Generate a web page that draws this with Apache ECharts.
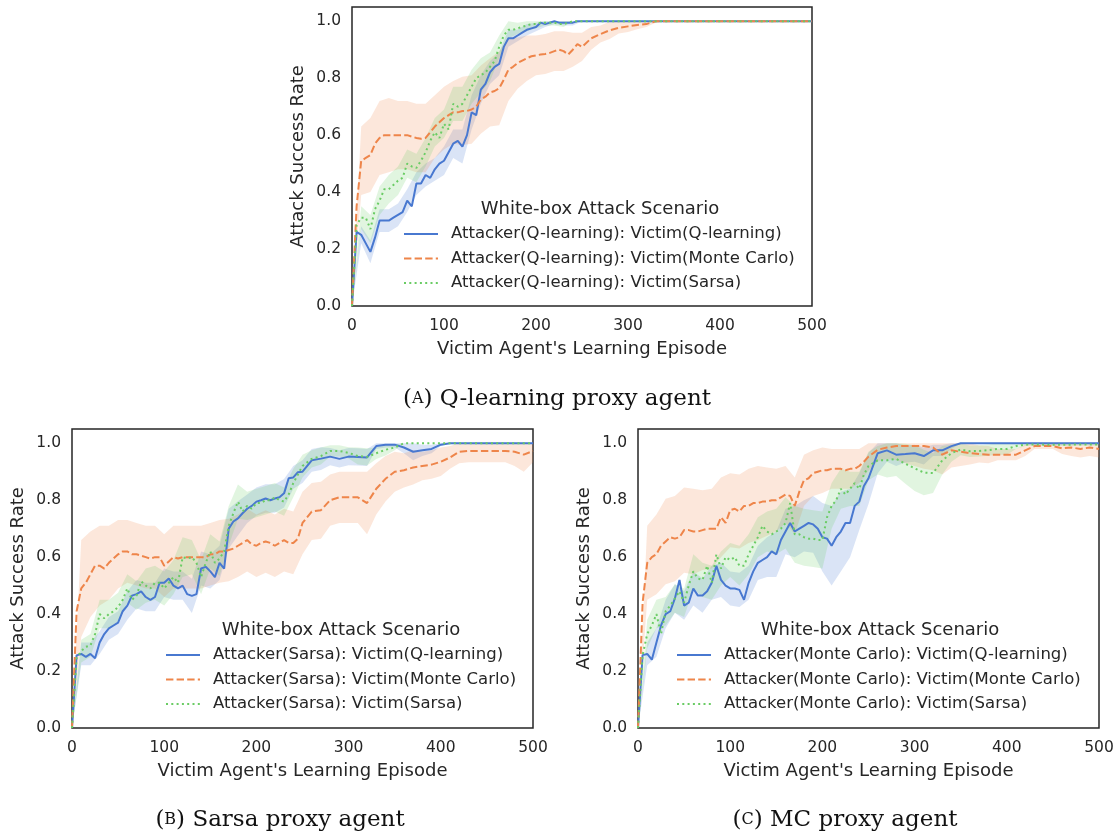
<!DOCTYPE html>
<html><head><meta charset="utf-8">
<script src="https://cdn.jsdelivr.net/npm/echarts@6/dist/echarts.min.js"></script>
<style>html,body{margin:0;padding:0;background:#fff}#c{width:1117px;height:835px}</style>
</head><body><div id="c"></div>
<script>
// ---------------- DATA ----------------
const episodes = [0,5,10,15,20,25,30,35,40,45,50,55,60,65,70,75,80,85,90,95,100,105,110,115,120,125,130,135,140,145,150,155,160,165,170,175,180,185,190,195,200,205,210,215,220,225,230,235,240,245,250,
  260,270,280,290,300,310,320,330,340,350,360,370,380,390,400,410,420,430,440,450,460,470,480,490,500];
const bandEpisodes = [0,10,20,30,40,50,60,70,80,90,100,110,120,130,140,150,160,170,180,190,200,210,220,230,240,250,260,270,280,290,300,310,320,330,340,350,360,370,380,390,400,410,420,430,440,450,460,470,480,490,500];
const xTicks = [0,100,200,300,400,500];
const yTicks = [0.0,0.2,0.4,0.6,0.8,1.0];

// (A) Q-learning proxy agent
const aQ = [0,0.26,0.25,0.22,0.19,0.24,0.30,0.30,0.30,0.31,
  0.32,0.33,0.37,0.35,0.43,0.43,0.46,0.45,0.48,0.50,
  0.51,0.54,0.57,0.58,0.56,0.60,0.68,0.67,0.76,0.78,
  0.82,0.84,0.85,0.91,0.94,0.94,0.95,0.96,0.97,0.975,
  0.98,0.995,0.99,0.995,1.0,0.995,0.995,0.995,0.995,1.0,
  1.0,
  1,1,1,1,1,1,1,1,1,1,1,1,1,1,1,1,1,1,1,1,1,1,1,1,1];
const aM = [0,0.35,0.51,0.52,0.53,0.57,0.59,0.60,0.60,0.60,
  0.60,0.60,0.60,0.595,0.59,0.587,0.59,0.61,0.63,0.645,
  0.66,0.67,0.68,0.68,0.685,0.685,0.69,0.70,0.725,0.735,
  0.75,0.755,0.765,0.795,0.83,0.84,0.853,0.862,0.87,0.877,
  0.88,0.883,0.885,0.889,0.895,0.90,0.895,0.883,0.90,0.92,
  0.91,
  0.94,0.955,0.968,0.977,0.982,0.987,0.99,1,1,1,1,1,1,1,1,1,1,1,1,1,1,1,1,1,1];
const aS = [0,0.285,0.31,0.31,0.27,0.34,0.37,0.41,0.41,0.425,
  0.44,0.45,0.50,0.49,0.485,0.51,0.54,0.58,0.61,0.59,
  0.64,0.62,0.71,0.70,0.71,0.74,0.77,0.80,0.81,0.82,
  0.84,0.86,0.91,0.95,0.97,0.97,0.975,0.98,0.985,0.99,
  0.99,0.995,0.995,0.995,0.995,0.99,0.99,0.995,1,1,
  1,
  1,1,1,1,1,1,1,1,1,1,1,1,1,1,1,1,1,1,1,1,1,1,1,1,1];
const aQspread = [0,0.03,0.04,0.04,0.04,0.04,0.04,0.04,0.04,0.04,
  0.05,0.05,0.06,0.06,0.05,0.04,0.04,0.03,0.02,0.02,
  0.015,0.01,0.01,0.01,0.01,0,0,0,0,0,
  0,0,0,0,0,0,0,0,0,0,
  0,0,0,0,0,0,0,0,0,0,
  0];
const aMspread = [0,0.12,0.13,0.13,0.13,0.12,0.12,0.12,0.12,0.11,
  0.11,0.11,0.12,0.12,0.12,0.12,0.13,0.11,0.09,0.08,
  0.07,0.07,0.07,0.07,0.06,0.05,0.04,0.03,0.03,0.02,
  0.02,0.015,0.01,0.005,0,0,0,0,0,0,
  0,0,0,0,0,0,0,0,0,0,
  0];
const aSspread = [0,0.04,0.05,0.05,0.05,0.05,0.05,0.05,0.05,0.05,
  0.05,0.06,0.06,0.06,0.06,0.05,0.04,0.03,0.02,0.02,
  0.015,0.01,0.01,0.01,0,0,0,0,0,0,
  0,0,0,0,0,0,0,0,0,0,
  0,0,0,0,0,0,0,0,0,0,
  0];

// (B) Sarsa proxy agent
const bQ = [0,0.255,0.26,0.25,0.26,0.245,0.30,0.33,0.35,0.36,
  0.37,0.41,0.43,0.465,0.47,0.48,0.46,0.45,0.46,0.51,
  0.51,0.525,0.50,0.49,0.50,0.47,0.464,0.47,0.56,0.566,
  0.55,0.53,0.58,0.56,0.70,0.725,0.736,0.754,0.77,0.78,
  0.795,0.80,0.806,0.80,0.806,0.81,0.824,0.877,0.88,0.898,
  0.90,
  0.94,0.946,0.953,0.945,0.953,0.952,0.95,0.99,0.995,0.995,0.985,0.97,0.975,0.98,0.995,1,1,1,1,1,1,1,1,1,1];
const bM = [0,0.41,0.49,0.51,0.54,0.57,0.57,0.56,0.58,0.595,
  0.61,0.62,0.62,0.61,0.61,0.605,0.60,0.595,0.60,0.60,
  0.57,0.585,0.60,0.595,0.60,0.60,0.60,0.60,0.60,0.60,
  0.61,0.61,0.62,0.62,0.625,0.63,0.64,0.65,0.66,0.645,
  0.64,0.65,0.655,0.65,0.64,0.65,0.66,0.65,0.65,0.665,
  0.72,
  0.76,0.765,0.80,0.81,0.81,0.81,0.79,0.84,0.875,0.90,0.905,0.915,0.92,0.925,0.935,0.95,0.97,0.973,0.973,0.973,0.973,0.973,0.97,0.96,0.973];
const bS = [0,0.245,0.27,0.285,0.29,0.33,0.40,0.385,0.40,0.41,
  0.425,0.45,0.49,0.45,0.465,0.515,0.50,0.49,0.51,0.51,
  0.49,0.51,0.53,0.51,0.60,0.595,0.60,0.58,0.53,0.58,
  0.62,0.58,0.595,0.62,0.71,0.754,0.795,0.76,0.78,0.77,
  0.79,0.79,0.80,0.80,0.81,0.80,0.795,0.82,0.86,0.89,
  0.92,
  0.945,0.955,0.973,0.973,0.966,0.955,0.952,0.965,0.977,0.985,1,1,1,1,1,1,1,1,1,1,1,1,1,1,1];
const bQspread = [0,0.04,0.04,0.04,0.04,0.04,0.05,0.05,0.05,0.05,
  0.05,0.05,0.05,0.06,0.06,0.06,0.06,0.07,0.06,0.05,
  0.05,0.05,0.05,0.05,0.04,0.04,0.04,0.04,0.03,0.03,
  0.03,0.03,0.03,0.01,0.01,0.01,0.02,0.03,0.02,0.015,
  0.005,0,0,0,0,0,0,0,0,0,
  0];
const bMspread = [0,0.17,0.15,0.14,0.13,0.12,0.11,0.11,0.11,0.11,
  0.11,0.11,0.11,0.11,0.11,0.11,0.11,0.11,0.11,0.11,
  0.11,0.11,0.11,0.11,0.11,0.11,0.10,0.10,0.09,0.09,
  0.09,0.09,0.11,0.09,0.08,0.07,0.06,0.06,0.05,0.05,
  0.05,0.04,0.04,0.04,0.04,0.04,0.04,0.04,0.05,0.06,
  0.04];
const bSspread = [0,0.04,0.04,0.05,0.05,0.05,0.05,0.05,0.06,0.06,
  0.06,0.06,0.07,0.06,0.06,0.06,0.06,0.07,0.06,0.05,
  0.05,0.05,0.05,0.05,0.05,0.04,0.03,0.03,0.02,0.02,
  0.02,0.03,0.03,0.02,0.02,0.01,0,0,0,0,
  0,0,0,0,0,0,0,0,0,0,
  0];

// (C) MC proxy agent
const cQ = [0,0.256,0.26,0.24,0.30,0.36,0.40,0.41,0.455,0.52,
  0.43,0.44,0.49,0.465,0.465,0.48,0.51,0.57,0.52,0.50,
  0.49,0.49,0.485,0.45,0.51,0.55,0.58,0.59,0.60,0.62,
  0.61,0.66,0.69,0.72,0.69,0.70,0.71,0.72,0.715,0.70,
  0.67,0.665,0.64,0.67,0.69,0.72,0.72,0.78,0.795,0.85,
  0.877,
  0.965,0.975,0.96,0.962,0.965,0.955,0.975,0.975,0.99,1,1,1,1,1,1,1,1,1,1,1,1,1,1,1,1];
const cM = [0,0.44,0.58,0.60,0.61,0.64,0.655,0.67,0.665,0.67,
  0.695,0.695,0.69,0.69,0.695,0.70,0.70,0.70,0.74,0.72,
  0.765,0.77,0.76,0.78,0.78,0.79,0.79,0.795,0.795,0.80,
  0.80,0.81,0.82,0.815,0.78,0.83,0.87,0.877,0.895,0.90,
  0.905,0.905,0.91,0.91,0.91,0.905,0.91,0.91,0.92,0.935,
  0.953,
  0.977,0.985,0.99,0.99,0.99,0.99,0.985,0.96,0.975,0.97,0.965,0.962,0.96,0.96,0.96,0.96,0.975,0.99,0.99,0.99,0.982,0.985,0.98,0.985,0.98];
const cS = [0,0.256,0.33,0.36,0.40,0.33,0.41,0.43,0.455,0.48,
  0.44,0.50,0.55,0.525,0.52,0.57,0.51,0.61,0.56,0.60,
  0.59,0.60,0.57,0.57,0.61,0.64,0.67,0.71,0.69,0.68,
  0.69,0.70,0.72,0.79,0.68,0.68,0.67,0.665,0.665,0.66,
  0.66,0.74,0.78,0.80,0.84,0.82,0.84,0.86,0.84,0.89,
  0.92,
  0.94,0.94,0.945,0.928,0.912,0.897,0.895,0.94,0.965,0.978,0.972,0.973,0.976,0.98,0.98,0.99,0.995,0.996,0.995,0.995,0.995,0.995,0.996,0.996,0.996];
const cQspread = [0,0.04,0.05,0.05,0.05,0.05,0.06,0.06,0.06,0.06,
  0.06,0.06,0.06,0.06,0.07,0.08,0.08,0.09,0.09,0.10,
  0.12,0.14,0.14,0.12,0.10,0.09,0.07,0.04,0.04,0.03,
  0.03,0.03,0.02,0.02,0.01,0,0,0,0,0,
  0,0,0,0,0,0,0,0,0,0,
  0];
const cMspread = [0,0.13,0.14,0.15,0.15,0.15,0.15,0.14,0.14,0.14,
  0.13,0.13,0.13,0.13,0.12,0.11,0.10,0.10,0.09,0.08,
  0.08,0.07,0.07,0.07,0.06,0.05,0.04,0.04,0.05,0.06,
  0.07,0.08,0.08,0.07,0.06,0.05,0.04,0.03,0.03,0.02,
  0.02,0.02,0.02,0.01,0.01,0.01,0.02,0.03,0.03,0.03,
  0.03];
const cSspread = [0,0.05,0.05,0.05,0.05,0.05,0.06,0.06,0.06,0.06,
  0.06,0.07,0.07,0.07,0.07,0.08,0.09,0.10,0.10,0.10,
  0.10,0.08,0.07,0.06,0.06,0.05,0.05,0.06,0.06,0.07,
  0.08,0.08,0.07,0.05,0.03,0.02,0.02,0.02,0.02,0.02,
  0.02,0.01,0.005,0.005,0.005,0.005,0.005,0.005,0.005,0.005,
  0.005];

const legendTitle = 'White-box Attack Scenario';
const xName = "Victim Agent's Learning Episode";
const yName = 'Attack Success Rate';

// ---------------- STYLE / LAYOUT ----------------
const FONT = 'DejaVu Sans';
const TXT = '#262626';
const COL = {q:'#4878d0', m:'#ee854a', s:'#6acc64'};
const FILL = {q:'rgba(72,120,208,0.2)', m:'rgba(238,133,74,0.2)', s:'rgba(106,204,100,0.2)'};
const DASH = {q:'solid', m:[7.4,3.2], s:[2,3.3]};

const panels = [
  {grid:{left:352, top:7, width:460, height:299}, att:'Q-learning', data:{q:aQ,m:aM,s:aS}, spread:{q:aQspread,m:aMspread,s:aSspread},
   legend:{left:403, top:224}, title:[600,209], caption:[557,399], capLetter:'A', capText:' Q-learning proxy agent'},
  {grid:{left:72, top:429, width:461, height:299}, att:'Sarsa', data:{q:bQ,m:bM,s:bS}, spread:{q:bQspread,m:bMspread,s:bSspread},
   legend:{left:165, top:645}, title:[341,630], caption:[280,820], capLetter:'B', capText:' Sarsa proxy agent'},
  {grid:{left:638, top:429, width:461, height:299}, att:'Monte Carlo', data:{q:cQ,m:cM,s:cS}, spread:{q:cQspread,m:cMspread,s:cSspread},
   legend:{left:676, top:645}, title:[880,630], caption:[845,820], capLetter:'C', capText:' MC proxy agent'}
];
const victims = {q:'Q-learning', m:'Monte Carlo', s:'Sarsa'};

function bandData(mean, spread){
  return bandEpisodes.map((x,j)=>{
    const i = episodes.indexOf(x);
    const m = mean[i];
    return [x, Math.max(0, m - spread[j]), Math.min(1, m + spread[j])];
  });
}

const grid=[], xAxis=[], yAxis=[], series=[], legend=[], graphic=[];
panels.forEach((p, gi)=>{
  grid.push(Object.assign({show:true, borderColor:'#262626', borderWidth:1.5, backgroundColor:'#fff'}, p.grid));
  xAxis.push({gridIndex:gi, type:'value', min:0, max:500, interval:100,
    name:xName, nameLocation:'middle', nameGap:34,
    nameTextStyle:{fontFamily:FONT, fontSize:18, color:TXT},
    axisLine:{show:false}, axisTick:{show:false}, splitLine:{show:false},
    axisLabel:{fontFamily:FONT, fontSize:15.5, color:TXT, margin:12}});
  yAxis.push({gridIndex:gi, type:'value', min:0, max:1.05, interval:0.2,
    name:yName, nameLocation:'middle', nameGap:45,
    nameTextStyle:{fontFamily:FONT, fontSize:18, color:TXT},
    axisLine:{show:false}, axisTick:{show:false}, splitLine:{show:false},
    axisLabel:{fontFamily:FONT, fontSize:15.5, color:TXT, margin:11,
      formatter:v=> (v > 1.001 ? '' : v.toFixed(1))}});
  const names=[];
  ['q','m','s'].forEach(k=>{
    const band = bandData(p.data[k], p.spread[k]);
    series.push({type:'custom', xAxisIndex:gi, yAxisIndex:gi, silent:true, z:1, animation:false,
      data: band, encode:{x:0, y:[1,2]},
      renderItem:function(params, api){
        if(params.dataIndex!==0) return null;
        const up=[], lo=[];
        for(const d of band){ up.push(api.coord([d[0], d[2]])); lo.push(api.coord([d[0], d[1]])); }
        return {type:'polygon', shape:{points:up.concat(lo.reverse())}, style:{fill:FILL[k]}};
      }});
  });
  ['q','m','s'].forEach(k=>{
    const name = 'Attacker('+p.att+'): Victim('+victims[k]+')';
    names.push(name);
    series.push({type:'line', name:name, xAxisIndex:gi, yAxisIndex:gi, z:3, animation:false,
      symbol:'none', data: episodes.map((e,i)=>[e, p.data[k][i]]),
      itemStyle:{color:COL[k]},
      lineStyle:{color:COL[k], width:2, type:DASH[k], cap:'butt'}});
  });
  legend.push({data:names, orient:'vertical', left:p.legend.left, top:p.legend.top,
    itemWidth:34, itemHeight:14, itemGap:4.5, selectedMode:false, padding:0,
    itemStyle:{opacity:0},
    textStyle:{fontFamily:FONT, fontSize:16.5, color:TXT, lineHeight:20, padding:[0,0,0,8]}});
  graphic.push({type:'text', x:p.title[0], y:p.title[1],
    style:{text:legendTitle, fontFamily:FONT, fontSize:18, fill:TXT, align:'center', verticalAlign:'middle'}});
  graphic.push({type:'text', x:p.caption[0], y:p.caption[1],
    style:{text:'{p|(}{s|'+p.capLetter+'}{p|)'+p.capText+'}', align:'center', verticalAlign:'middle',
      rich:{p:{fontFamily:'DejaVu Serif', fontSize:23, fill:'#111'}, s:{fontFamily:'DejaVu Serif', fontSize:16, fill:'#111'}}}});
});

const chart = echarts.init(document.getElementById('c'), null, {renderer:'canvas'});
chart.setOption({animation:false, backgroundColor:'#fff', grid, xAxis, yAxis, series, legend, graphic});
</script>
</body></html>
